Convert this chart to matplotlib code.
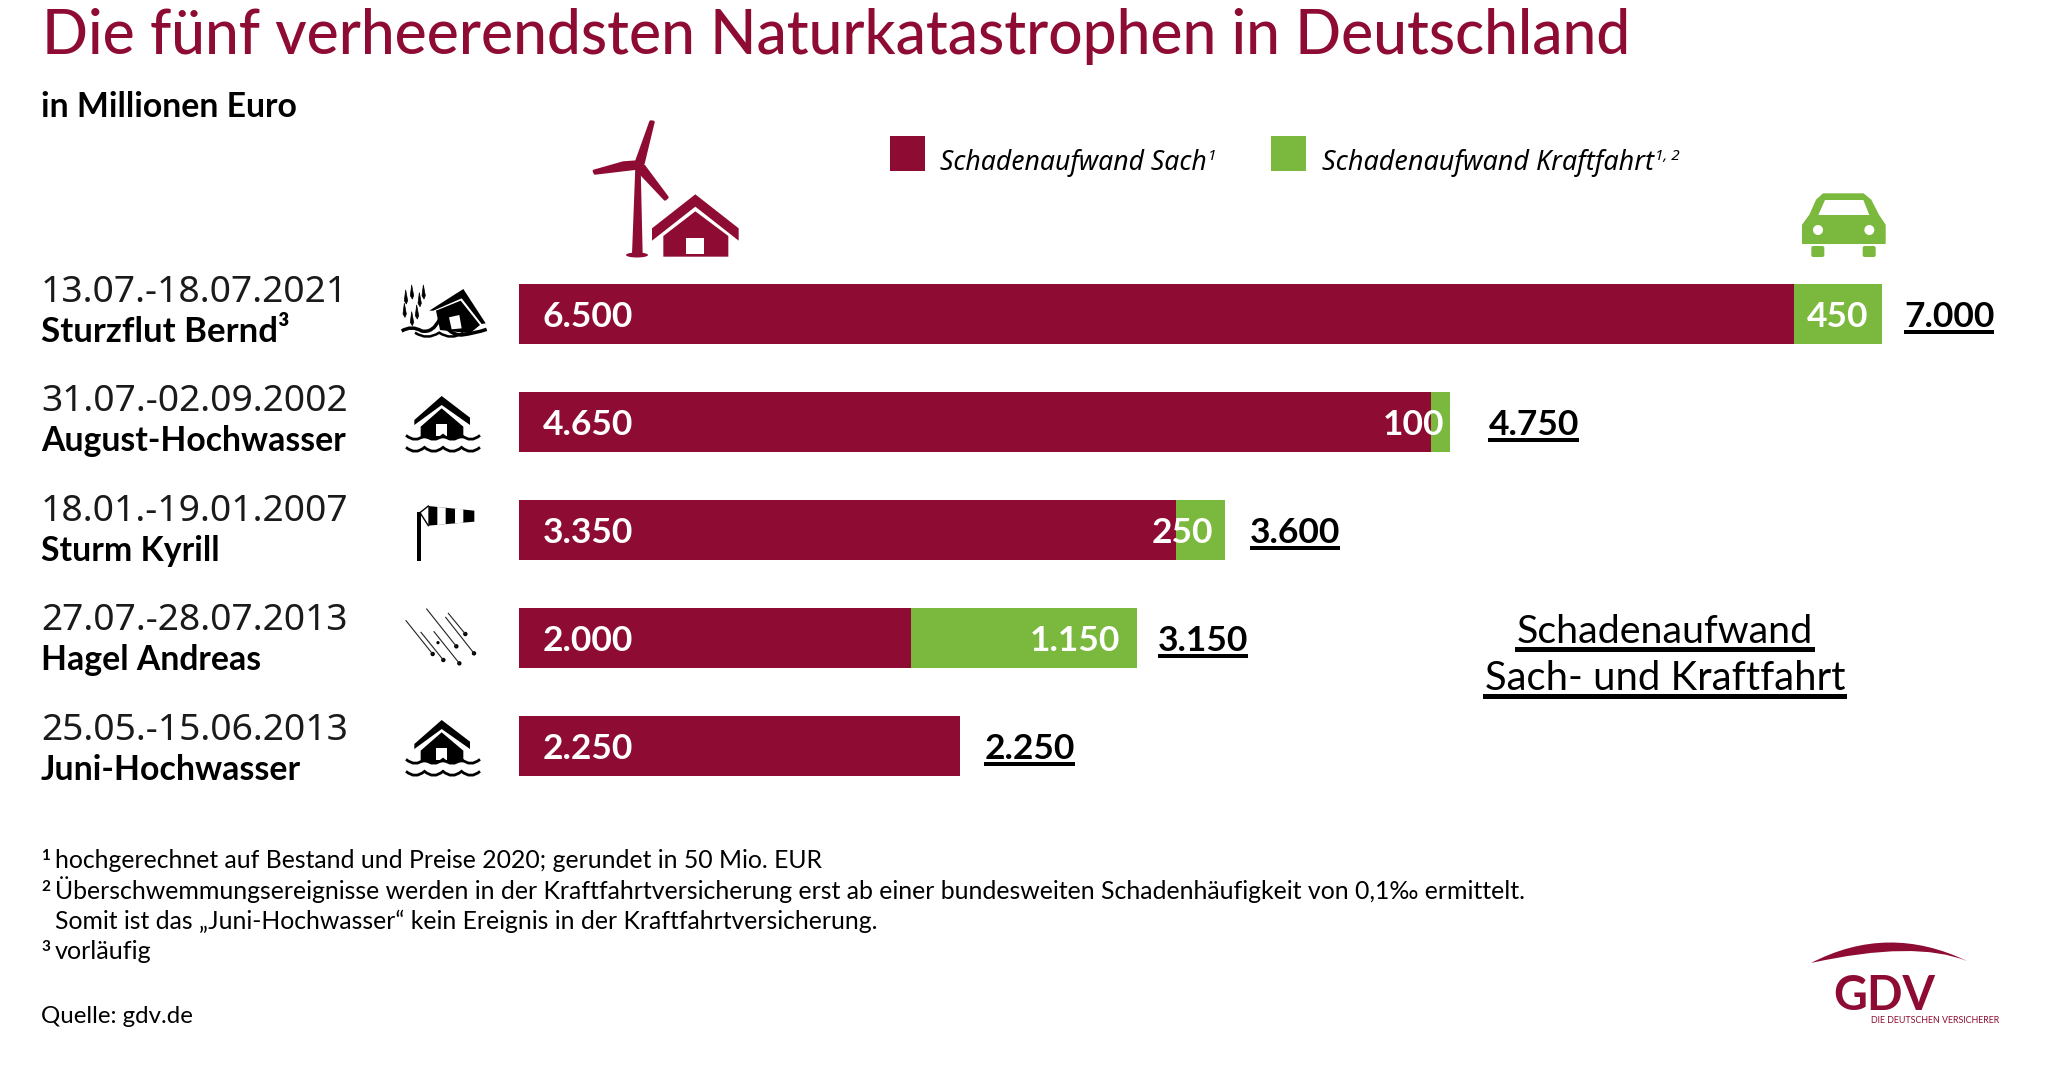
import numpy as np
import matplotlib
matplotlib.use("Agg")
import matplotlib.pyplot as plt
from matplotlib.patches import Polygon, Rectangle, Circle, Ellipse, PathPatch, FancyBboxPatch
from matplotlib.path import Path

events = ["Sturzflut Bernd³", "August-Hochwasser", "Sturm Kyrill", "Hagel Andreas", "Juni-Hochwasser"]
dates = ["13.07.-18.07.2021", "31.07.-02.09.2002", "18.01.-19.01.2007", "27.07.-28.07.2013", "25.05.-15.06.2013"]
sach = [6500, 4650, 3350, 2000, 2250]
kraft = [450, 100, 250, 1150, 0]
sach_labels = ["6.500", "4.650", "3.350", "2.000", "2.250"]
kraft_labels = ["450", "100", "250", "1.150", ""]
total_labels = ["7.000", "4.750", "3.600", "3.150", "2.250"]

footnotes = [
    "hochgerechnet auf Bestand und Preise 2020; gerundet in 50 Mio. EUR",
    "Überschwemmungsereignisse werden in der Kraftfahrtversicherung erst ab einer bundesweiten Schadenhäufigkeit von 0,1‰ ermittelt.",
    "Somit ist das „Juni-Hochwasser“ kein Ereignis in der Kraftfahrtversicherung.",
    "vorläufig",
]

RED = "#8E0C33"
GREEN = "#7AB93D"
W, H = 2068, 1074
PX_PER_UNIT = 0.1961
THIN = ["Noto Sans", "DejaVu Sans"]

plt.rcParams["font.family"] = ["Lato", "DejaVu Sans"]
fig = plt.figure(figsize=(W / 100, H / 100), dpi=100, facecolor="white")

# bars get their own axes, the row centres are 108 px apart starting at 314
ax = fig.add_axes([519 / W, 0, 1 - 519 / W, 1])
ax.set_xlim(0, (W - 519) / PX_PER_UNIT)
ax.set_ylim((H - 314) / 108, -314 / 108)
ax.axis("off")
rows = np.arange(len(sach))
ax.barh(rows, sach, height=60 / 108, color=RED, linewidth=0)
ax.barh(rows, kraft, left=sach, height=60 / 108, color=GREEN, linewidth=0)

# overlay in pixel coordinates for text and icons
px = fig.add_axes([0, 0, 1, 1])
px.set_xlim(0, W)
px.set_ylim(H, 0)
px.axis("off")
px.patch.set_alpha(0)
renderer = fig.canvas.get_renderer()


def fit(t, width):
    # scale the font until the text is as wide as in the reference
    bb = t.get_window_extent(renderer)
    t.set_fontsize(t.get_fontsize() * width / bb.width)
    return t


def label(x, y, s, width=None, size=20, **kw):
    kw.setdefault("va", "baseline")
    kw.setdefault("color", "black")
    t = px.text(x, y, s, fontsize=size, **kw)
    if width:
        fit(t, width)
    return t


def zoomed(pts, ox, oy, f=3.0):
    return [(ox + x / f, oy + y / f) for x, y in pts]


def poly(pts, ox, oy, color="black", lw=0, **kw):
    px.add_patch(Polygon(zoomed(pts, ox, oy), closed=True, fc=color, ec=color, lw=lw, joinstyle="round", **kw))


def wave(x0, x1, y, n, amp, lw, color="black"):
    step = (x1 - x0) / n
    verts = [(x0, y)]
    codes = [Path.MOVETO]
    for i in range(n):
        verts += [(x0 + (i + 0.5) * step, y + amp), (x0 + (i + 1) * step, y)]
        codes += [Path.CURVE3, Path.CURVE3]
    px.add_patch(PathPatch(Path(verts, codes), fc="none", ec=color, lw=lw))


# heading
label(42, 54, "Die fünf verheerendsten Naturkatastrophen in Deutschland", 1590, 44, color=RED, fontweight="medium")
label(41, 117, "in Millionen Euro", 256, 24, fontweight="bold")

# legend
px.add_patch(Rectangle((890, 136), 35, 35, fc=RED, lw=0))
px.add_patch(Rectangle((1271, 136), 35, 35, fc=GREEN, lw=0))
label(940, 170, "Schadenaufwand Sach", 267, 20, style="italic", family=THIN)
label(1208, 160, "1", None, 11, style="italic", family=THIN)
label(1322, 170, "Schadenaufwand Kraftfahrt", 332, 20, style="italic", family=THIN)
label(1655, 160, "1, 2", None, 11, style="italic", family=THIN)

# row labels
date_base = [302, 411, 521, 630, 740]
name_width = [249, 305, 179, 220, 260]
for i in rows:
    label(41, date_base[i], dates[i], 307, 24, family=THIN, color="#1a1a1a")
    label(41, date_base[i] + 40, events[i], name_width[i], 24, fontweight="bold")

# values on and behind the bars
kraft_pad = [14, 6, 12, 17, 0]
total_pad = [22, 38, 25, 21, 24]
for i in rows:
    ax.annotate(sach_labels[i], (0, i), xytext=(24 * 0.72, -2), textcoords="offset points",
                color="white", fontsize=25.5, fontweight="bold", va="center", ha="left")
    end = sach[i] + kraft[i]
    if kraft_labels[i]:
        ax.annotate(kraft_labels[i], (end, i), xytext=(-kraft_pad[i] * 0.72, -2), textcoords="offset points",
                    color="white", fontsize=25.5, fontweight="bold", va="center", ha="right")
    t = ax.annotate(total_labels[i], (end, i), xytext=(total_pad[i] * 0.72, -2), textcoords="offset points",
                    color="black", fontsize=25.5, fontweight="bold", va="center", ha="left")
    bb = t.get_window_extent(renderer)
    yy = 314 + 108 * i + 16
    px.add_patch(Rectangle((bb.x0, yy), bb.width, 4, fc="black", lw=0))

# note on the right
label(1665, 643, "Schadenaufwand", 296, 30, ha="center")
label(1665, 690, "Sach- und Kraftfahrt", 360, 30, ha="center")
px.add_patch(Rectangle((1515, 647), 300, 5, fc="black", lw=0))
px.add_patch(Rectangle((1483, 694), 364, 5, fc="black", lw=0))

# footnotes
foot_base = [868, 899, 929, 959]
foot_width = [765, 1471, 822, 97]
foot_marks = ["1", "2", "", "3"]
for i, s in enumerate(footnotes):
    label(55, foot_base[i], s, foot_width[i], 17)
    if foot_marks[i]:
        label(41, foot_base[i] - 8, foot_marks[i], None, 11, fontweight="bold")
label(41, 1023, "Quelle: gdv.de", 152, 17)

# logo
arc = Path([(1811, 963), (1888, 923), (1967, 961), (1915, 940), (1811, 963)],
           [Path.MOVETO, Path.CURVE3, Path.CURVE3, Path.CURVE3, Path.CURVE3])
px.add_patch(PathPatch(arc, fc=RED, lw=0))
label(1833, 1010, "GDV", 102, 34, color=RED, fontweight="bold")
label(1871, 1023, "DIE DEUTSCHEN VERSICHERER", 130, 8, color=RED)

# turbine and house above the bars
ox, oy = 580, 110
poly([(166, 170), (182, 170), (188, 432), (156, 432)], ox, oy, RED)
px.add_patch(Ellipse((ox + 171 / 3, oy + 435 / 3), 22, 5, fc=RED, lw=0))
poly([(170, 152), (212, 35), (220, 36), (190, 160)], ox, oy, RED, lw=2)
poly([(42, 183), (130, 158), (172, 155), (172, 175), (45, 190)], ox, oy, RED, lw=2)
poly([(178, 162), (192, 168), (262, 262), (255, 268), (172, 180)], ox, oy, RED, lw=2)
poly([(216, 355), (346, 253), (476, 355), (476, 392), (346, 290), (216, 392)], ox, oy, RED)
poly([(250, 378), (346, 304), (445, 378), (445, 440), (250, 440)], ox, oy, RED)
poly([(319, 385), (371, 385), (371, 431), (319, 431)], ox, oy, "white")

# car
ox, oy = 1780, 180
poly([(130, 42), (250, 42), (272, 60), (295, 105), (315, 135), (315, 190), (68, 190), (68, 135), (90, 105), (110, 60)],
     ox, oy, GREEN, lw=1)
poly([(135, 60), (250, 60), (268, 105), (115, 105)], ox, oy, "white")
px.add_patch(Circle((ox + 114 / 3, oy + 150 / 3), 5, fc="white", lw=0))
px.add_patch(Circle((ox + 268 / 3, oy + 150 / 3), 5, fc="white", lw=0))
for wx in (94, 248):
    px.add_patch(FancyBboxPatch((ox + wx / 3 + 2, oy + 198 / 3 + 2), 9, 7, boxstyle="round,pad=2", fc=GREEN, lw=0))

# row 1: house tilted in the flash flood
ox, oy = 390, 270
poly([(118, 122), (220, 57), (287, 160), (275, 162), (215, 85), (130, 122)], ox, oy)
poly([(138, 122), (212, 92), (270, 165), (240, 190), (150, 180)], ox, oy)
poly([(177, 142), (208, 135), (215, 175), (185, 178)], ox, oy, "white")
for dx, dy in [(47, 60), (65, 45), (100, 45), (88, 68), (43, 100), (65, 125), (80, 105)]:
    poly([(dx, dy), (dx + 6, dy + 32), (dx + 2, dy + 42), (dx - 4, dy + 32)], ox, oy, lw=0.5)
flood = Path(zoomed([(35, 183), (65, 165), (95, 183), (130, 190), (150, 145),
                     (175, 195), (215, 195), (255, 190), (290, 178)], ox, oy),
             [Path.MOVETO] + [Path.CURVE3] * 8)
px.add_patch(PathPatch(flood, fc="none", ec="black", lw=2.5))
wave(ox + 75 / 3, ox + 220 / 3, oy + 188 / 3, 2, 8, 1.8)

# rows 2 and 5: flooded house, y offset between them is 3 rows
for shift in (0, 324):
    ox, oy = 380, 370 + shift
    poly([(103, 150), (185, 78), (270, 143), (270, 165), (185, 105), (103, 165)], ox, oy)
    poly([(122, 170), (185, 115), (250, 170), (250, 205), (122, 205)], ox, oy)
    poly([(168, 163), (200, 163), (200, 197), (168, 197)], ox, oy, "white")
    wave(ox + 78 / 3, ox + 300 / 3, oy + 196 / 3, 4, 8, 2.0)
    wave(ox + 78 / 3, ox + 300 / 3, oy + 232 / 3, 4, 8, 2.0)

# row 3: windsock
ox, oy = 380, 370
poly([(110, 425), (122, 425), (122, 572), (110, 572)], ox, oy)
poly([(145, 408), (283, 422), (283, 455), (145, 467)], ox, oy)
poly([(172, 411), (197, 413), (197, 463), (172, 465)], ox, oy, "white")
poly([(225, 416), (250, 418), (250, 458), (225, 460)], ox, oy, "white")
for y_end in (408, 467):
    p0, p1 = zoomed([(120, 428), (145, y_end)], ox, oy)
    px.plot([p0[0], p1[0]], [p0[1], p1[1]], color="black", lw=1)

# row 4: hail
hail = [(78, 752, 158, 852), (123, 787, 190, 870), (140, 717, 229, 829),
        (162, 785, 238, 880), (197, 742, 282, 850), (205, 730, 256, 792)]
for x0, y0, x1, y1 in hail:
    p0, p1 = zoomed([(x0, y0), (x1, y1)], ox, oy)
    px.plot([p0[0], p1[0]], [p0[1], p1[1]], color="#222222", lw=0.8)
    px.add_patch(Circle(p1, 2.2, fc="black", lw=0))
px.add_patch(Circle(zoomed([(174, 818)], ox, oy)[0], 1.6, fc="black", lw=0))

fig.savefig("out.png", dpi=100, facecolor="white")
